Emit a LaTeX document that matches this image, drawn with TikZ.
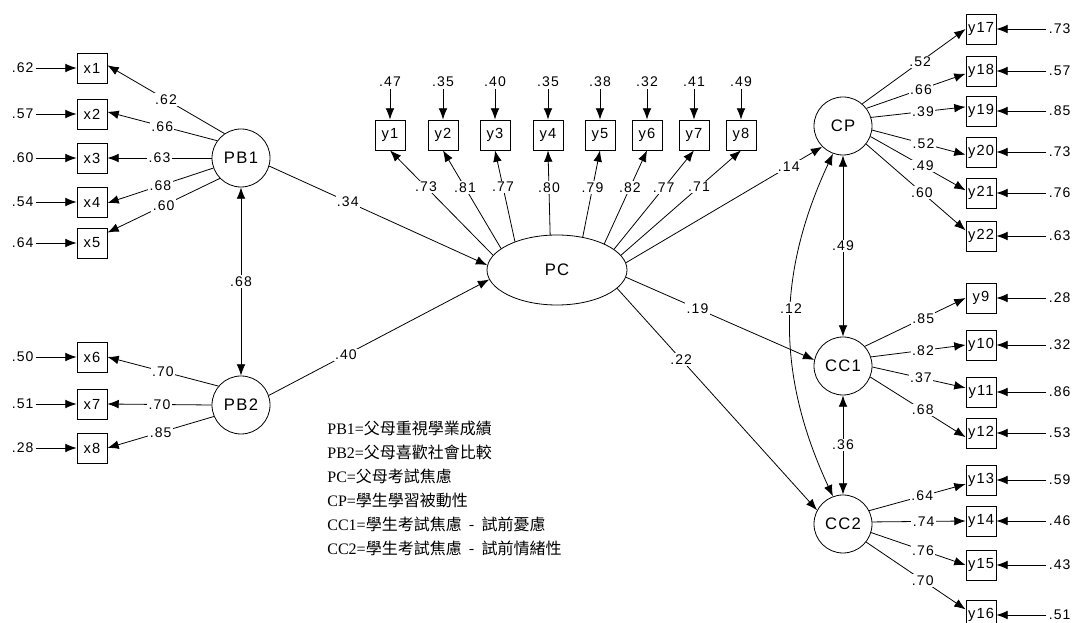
\documentclass[tikz,border=0pt]{standalone}
\usepackage{fontspec}
\setmainfont{Liberation Sans}[LetterSpace=8]
\newfontfamily\legendfont{Liberation Serif}
\newfontfamily\cjk{Noto Sans CJK TC}
\usetikzlibrary{positioning, arrows.meta, shapes.geometric}

\begin{document}
\begin{tikzpicture}[x=0.75pt,y=-0.75pt,on grid,line width=0.6pt,
    >={Latex[length=8.5pt,width=6.5pt]},
    lat/.style={circle,draw,minimum size=43.5pt,inner sep=0pt,font=\fontsize{12.5}{14}\selectfont},
    obs/.style={rectangle,draw,minimum size=22.5pt,inner sep=0pt,font=\fontsize{11}{13}\selectfont},
    err/.style={inner sep=1.5pt,font=\fontsize{10.5}{12}\selectfont},
    lbl/.style={fill=white,inner sep=1pt,font=\fontsize{10.5}{12}\selectfont}]
    \useasboundingbox (0,0) rectangle (1076,623);

    % latent variables
    \node[lat] (PB1) at (241,158) {PB1};
    \node[lat] (PB2) at (241,405) {PB2};
    \node[ellipse,draw,minimum width=105pt,minimum height=52.5pt,inner sep=0pt,font=\fontsize{12.5}{14}\selectfont] (PC) at (557,270) {PC};
    \node[lat] (CP) at (843,126) {CP};
    \node[lat] (CC1) at (843,366) {CC1};
    \node[lat] (CC2) at (843,524) {CC2};

    % indicators of PB1 and PB2
    \node[obs] (x1) at (92,68) {x1};
    \node[obs] (x2) at (92,114) {x2};
    \node[obs] (x3) at (92,158) {x3};
    \node[obs] (x4) at (92,202) {x4};
    \node[obs] (x5) at (92,243) {x5};
    \node[obs] (x6) at (92,357) {x6};
    \node[obs] (x7) at (92,404) {x7};
    \node[obs] (x8) at (92,448) {x8};

    % indicators of PC
    \node[obs] (y1) at (390,135) {y1};
    \node[obs] (y2) at (443,135) {y2};
    \node[obs] (y3) at (495,135) {y3};
    \node[obs] (y4) at (548,135) {y4};
    \node[obs] (y5) at (600,135) {y5};
    \node[obs] (y6) at (647,135) {y6};
    \node[obs] (y7) at (694,135) {y7};
    \node[obs] (y8) at (741,135) {y8};

    % indicators of CP, CC1 and CC2
    \node[obs] (y17) at (981,29) {y17};
    \node[obs] (y18) at (981,71) {y18};
    \node[obs] (y19) at (981,111) {y19};
    \node[obs] (y20) at (981,152) {y20};
    \node[obs] (y21) at (981,193) {y21};
    \node[obs] (y22) at (981,236) {y22};
    \node[obs] (y9) at (981,298) {y9};
    \node[obs] (y10) at (981,345) {y10};
    \node[obs] (y11) at (981,392) {y11};
    \node[obs] (y12) at (981,433) {y12};
    \node[obs] (y13) at (981,480) {y13};
    \node[obs] (y14) at (981,521) {y14};
    \node[obs] (y15) at (981,565) {y15};
    \node[obs] (y16) at (981,615) {y16};

    % error variances
    \node[err] (ex1) [left=52pt of x1] {.62};
    \node[err] (ex2) [left=52pt of x2] {.57};
    \node[err] (ex3) [left=52pt of x3] {.60};
    \node[err] (ex4) [left=52pt of x4] {.54};
    \node[err] (ex5) [left=52pt of x5] {.64};
    \node[err] (ex6) [left=52pt of x6] {.50};
    \node[err] (ex7) [left=52pt of x7] {.51};
    \node[err] (ex8) [left=52pt of x8] {.28};
    \node[err] (ey1) [above=40pt of y1] {.47};
    \node[err] (ey2) [above=40pt of y2] {.35};
    \node[err] (ey3) [above=40pt of y3] {.40};
    \node[err] (ey4) [above=40pt of y4] {.35};
    \node[err] (ey5) [above=40pt of y5] {.38};
    \node[err] (ey6) [above=40pt of y6] {.32};
    \node[err] (ey7) [above=40pt of y7] {.41};
    \node[err] (ey8) [above=40pt of y8] {.49};
    \node[err] (ey17) [right=59pt of y17] {.73};
    \node[err] (ey18) [right=59pt of y18] {.57};
    \node[err] (ey19) [right=59pt of y19] {.85};
    \node[err] (ey20) [right=59pt of y20] {.73};
    \node[err] (ey21) [right=59pt of y21] {.76};
    \node[err] (ey22) [right=59pt of y22] {.63};
    \node[err] (ey9) [right=59pt of y9] {.28};
    \node[err] (ey10) [right=59pt of y10] {.32};
    \node[err] (ey11) [right=59pt of y11] {.86};
    \node[err] (ey12) [right=59pt of y12] {.53};
    \node[err] (ey13) [right=59pt of y13] {.59};
    \node[err] (ey14) [right=59pt of y14] {.46};
    \node[err] (ey15) [right=59pt of y15] {.43};
    \node[err] (ey16) [right=59pt of y16] {.51};

    \path[->]
    (ex1) edge (x1) (ex2) edge (x2) (ex3) edge (x3) (ex4) edge (x4)
    (ex5) edge (x5) (ex6) edge (x6) (ex7) edge (x7) (ex8) edge (x8)
    (ey1) edge (y1) (ey2) edge (y2) (ey3) edge (y3) (ey4) edge (y4)
    (ey5) edge (y5) (ey6) edge (y6) (ey7) edge (y7) (ey8) edge (y8)
    (ey9) edge (y9) (ey10) edge (y10) (ey11) edge (y11) (ey12) edge (y12)
    (ey13) edge (y13) (ey14) edge (y14) (ey15) edge (y15) (ey16) edge (y16)
    (ey17) edge (y17) (ey18) edge (y18) (ey19) edge (y19) (ey20) edge (y20)
    (ey21) edge (y21) (ey22) edge (y22)
    ;

    % measurement paths
    \path[->]
    (PB1.124) edge node[lbl] {.62} (x1.10)
    (PB1.144) edge node[lbl] {.66} (x2.8)
    (PB1.180) edge node[lbl] {.63} (x3.east)
    (PB1.200) edge node[lbl] {.68} (x4.356)
    (PB1.224) edge node[lbl] {.60} (x5.34)
    (PB2.140) edge node[lbl] {.70} (x6.east)
    (PB2.180) edge node[lbl] {.70} (x7.east)
    (PB2.203) edge node[lbl] {.85} (x8.east)
    (PC.167) edge node[lbl,pos=0.65] {.73} (y1.south)
    (PC.159) edge node[lbl,pos=0.62] {.81} (y2.south)
    (PC.146) edge node[lbl,pos=0.6] {.77} (y3.south)
    (PC.101) edge node[lbl,pos=0.56] {.80} (y4.south)
    (PC.52) edge node[lbl,pos=0.57] {.79} (y5.south)
    (PC.29) edge node[lbl,pos=0.6] {.82} (y6.south)
    (PC.20) edge node[lbl,pos=0.62] {.77} (y7.south)
    (PC.13) edge node[lbl,pos=0.65] {.71} (y8.south)
    (CP.49) edge node[lbl,pos=0.56] {.52} (y17.west)
    (CP.37) edge node[lbl,pos=0.55] {.66} (y18.190)
    (CP.17) edge node[lbl,pos=0.55] {.39} (y19.165)
    (CP.352) edge node[lbl,pos=0.55] {.52} (y20.190)
    (CP.339) edge node[lbl,pos=0.55] {.49} (y21.170)
    (CP.322) edge node[lbl,pos=0.56] {.60} (y22.160)
    (CC1.42) edge node[lbl,pos=0.58] {.85} (y9.west)
    (CC1.18) edge node[lbl,pos=0.55] {.82} (y10.west)
    (CC1.358) edge node[lbl,pos=0.52] {.37} (y11.165)
    (CC1.338) edge node[lbl,pos=0.55] {.68} (y12.195)
    (CC2.27) edge node[lbl,pos=0.55] {.64} (y13.195)
    (CC2.4) edge node[lbl,pos=0.55] {.74} (y14.west)
    (CC2.343) edge node[lbl,pos=0.55] {.76} (y15.west)
    (CC2.322) edge node[lbl,pos=0.57] {.70} (y16.160)
    ;

    % structural paths and covariances
    \path[->]
    (PB1.344) edge node[lbl,pos=0.36] {.34} (PC.176)
    (PB2.19) edge node[lbl,pos=0.35] {.40} (PC.188)
    (PC.6) edge node[lbl,pos=0.83] {.14} (CP.225)
    (PC.354) edge node[lbl,pos=0.38] {.19} (CC1.168)
    (PC.343) edge node[lbl,pos=0.32] {.22} (CC2.152)
    (PB1) edge[<->] node[lbl] {.68} (PB2)
    (CP) edge[<->] node[lbl] {.49} (CC1)
    (CC1) edge[<->] node[lbl] {.36} (CC2)
    (CP.250) edge[<->,bend right=25] node[lbl,pos=0.45] {.12} (CC2.110)
    ;

    % legend
    \node[anchor=north west,align=left,inner sep=0pt,font=\legendfont\fontsize{12}{18}\selectfont] (legend) at (327,421)
    {PB1=\cjk{父母重視學業成績}\\
     PB2=\cjk{父母喜歡社會比較}\\
     PC=\cjk{父母考試焦慮}\\
     CP=\cjk{學生學習被動性}\\
     CC1=\cjk{學生考試焦慮}\hspace{0.45em}-\hspace{0.45em}\cjk{試前憂慮}\\
     CC2=\cjk{學生考試焦慮}\hspace{0.45em}-\hspace{0.45em}\cjk{試前情緒性}};
\end{tikzpicture}
\end{document}
